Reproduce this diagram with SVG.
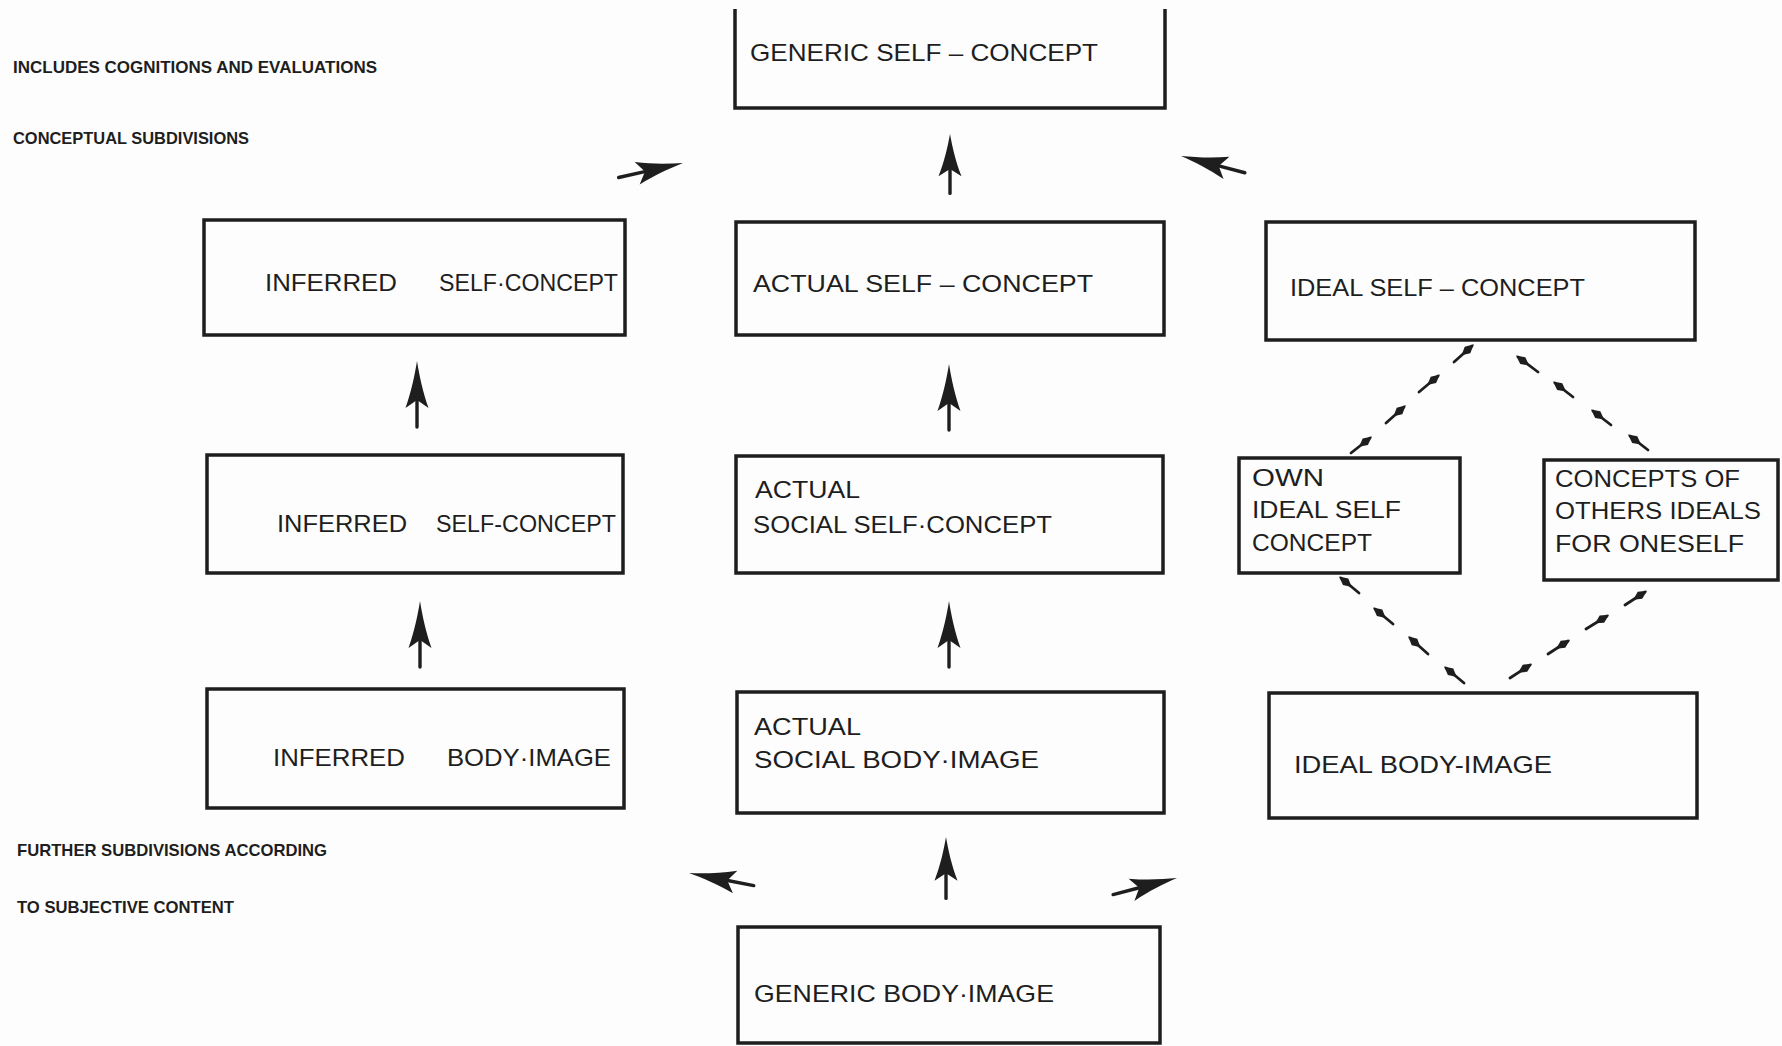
<svg xmlns="http://www.w3.org/2000/svg" xmlns:xlink="http://www.w3.org/1999/xlink" width="1782" height="1046" viewBox="0 0 1782 1046">
<style>
.box{fill:none;stroke:#1e1e1e;stroke-width:3.5;stroke-linejoin:miter}
.t{font-family:"Liberation Sans",Arial,sans-serif;font-size:24px;fill:#1e1e1e}
.s{font-family:"Liberation Sans",Arial,sans-serif;font-size:17px;font-weight:bold;fill:#1e1e1e}
.dash{stroke:#1e1e1e;stroke-width:2.8;stroke-linecap:round;marker-end:url(#sm)}
</style>
<defs>
<g id="arr">
<path d="M0,0 C2.5,15 5.5,30 11.5,47 L0,39 L-11.5,47 C-5.5,30 -2.5,15 0,0 Z" fill="#1e1e1e"/>
<line x1="0" y1="38" x2="0" y2="66" stroke="#1e1e1e" stroke-width="3.4" stroke-linecap="round"/>
</g>
<marker id="sm" markerUnits="userSpaceOnUse" markerWidth="22" markerHeight="14" viewBox="-18 -7 22 14" refX="0" refY="0" orient="auto">
<path d="M2.5,0 L-6,-4.2 L-14,0 L-6,4.2 Z" fill="#1e1e1e"/>
</marker>
</defs>
<rect width="1782" height="1046" fill="#fdfdfd"/>

<g id="notes">
<text class="s" x="13" y="73" textLength="364" lengthAdjust="spacingAndGlyphs">INCLUDES COGNITIONS AND EVALUATIONS</text>
<text class="s" x="13" y="144" textLength="236" lengthAdjust="spacingAndGlyphs">CONCEPTUAL SUBDIVISIONS</text>
<text class="s" x="17" y="856" textLength="310" lengthAdjust="spacingAndGlyphs">FURTHER SUBDIVISIONS ACCORDING</text>
<text class="s" x="17" y="913" textLength="217" lengthAdjust="spacingAndGlyphs">TO SUBJECTIVE CONTENT</text>
</g>

<g id="generic-self-concept">
<path class="box" d="M735,9 V108 H1165 V9"/>
<text class="t" x="750" y="61" textLength="348" lengthAdjust="spacingAndGlyphs">GENERIC SELF – CONCEPT</text>
</g>

<g id="inferred-self-concept-1">
<rect class="box" x="204" y="220" width="421" height="115"/>
<text class="t" x="265" y="291" textLength="132" lengthAdjust="spacingAndGlyphs">INFERRED</text>
<text class="t" x="439" y="291" textLength="179" lengthAdjust="spacingAndGlyphs">SELF·CONCEPT</text>
</g>

<g id="actual-self-concept">
<rect class="box" x="736" y="222" width="428" height="113"/>
<text class="t" x="753" y="292" textLength="340" lengthAdjust="spacingAndGlyphs">ACTUAL  SELF – CONCEPT</text>
</g>

<g id="ideal-self-concept">
<rect class="box" x="1266" y="222" width="429" height="118"/>
<text class="t" x="1290" y="296" textLength="295" lengthAdjust="spacingAndGlyphs">IDEAL SELF – CONCEPT</text>
</g>

<g id="inferred-self-concept-2">
<rect class="box" x="207" y="455" width="416" height="118"/>
<text class="t" x="277" y="532" textLength="130" lengthAdjust="spacingAndGlyphs">INFERRED</text>
<text class="t" x="436" y="532" textLength="180" lengthAdjust="spacingAndGlyphs">SELF-CONCEPT</text>
</g>

<g id="actual-social-self-concept">
<rect class="box" x="736" y="456" width="427" height="117"/>
<text class="t" x="755" y="498" textLength="105" lengthAdjust="spacingAndGlyphs">ACTUAL</text>
<text class="t" x="753" y="533" textLength="299" lengthAdjust="spacingAndGlyphs">SOCIAL SELF·CONCEPT</text>
</g>

<g id="own-ideal-self-concept">
<rect class="box" x="1239" y="458" width="221" height="115"/>
<text class="t" x="1252" y="486" textLength="72" lengthAdjust="spacingAndGlyphs">OWN</text>
<text class="t" x="1252" y="518" textLength="149" lengthAdjust="spacingAndGlyphs">IDEAL  SELF</text>
<text class="t" x="1252" y="551" textLength="120" lengthAdjust="spacingAndGlyphs">CONCEPT</text>
</g>

<g id="concepts-of-others-ideals">
<rect class="box" x="1544" y="460" width="234" height="120"/>
<text class="t" x="1555" y="487" textLength="185" lengthAdjust="spacingAndGlyphs">CONCEPTS OF</text>
<text class="t" x="1555" y="519" textLength="206" lengthAdjust="spacingAndGlyphs">OTHERS IDEALS</text>
<text class="t" x="1555" y="552" textLength="189" lengthAdjust="spacingAndGlyphs">FOR ONESELF</text>
</g>

<g id="inferred-body-image">
<rect class="box" x="207" y="689" width="417" height="119"/>
<text class="t" x="273" y="766" textLength="132" lengthAdjust="spacingAndGlyphs">INFERRED</text>
<text class="t" x="447" y="766" textLength="164" lengthAdjust="spacingAndGlyphs">BODY·IMAGE</text>
</g>

<g id="actual-social-body-image">
<rect class="box" x="737" y="692" width="427" height="121"/>
<text class="t" x="754" y="735" textLength="107" lengthAdjust="spacingAndGlyphs">ACTUAL</text>
<text class="t" x="754" y="768" textLength="285" lengthAdjust="spacingAndGlyphs">SOCIAL  BODY·IMAGE</text>
</g>

<g id="ideal-body-image">
<rect class="box" x="1269" y="693" width="428" height="125"/>
<text class="t" x="1294" y="773" textLength="258" lengthAdjust="spacingAndGlyphs">IDEAL BODY-IMAGE</text>
</g>

<g id="generic-body-image">
<rect class="box" x="738" y="927" width="422" height="116"/>
<text class="t" x="754" y="1002" textLength="300" lengthAdjust="spacingAndGlyphs">GENERIC BODY·IMAGE</text>
</g>

<g id="connectors">
<use xlink:href="#arr" href="#arr" transform="translate(950,134) scale(1,0.9)"/>
<use xlink:href="#arr" href="#arr" transform="translate(417,361)"/>
<use xlink:href="#arr" href="#arr" transform="translate(420,601)"/>
<use xlink:href="#arr" href="#arr" transform="translate(949,364)"/>
<use xlink:href="#arr" href="#arr" transform="translate(949,601)"/>
<use xlink:href="#arr" href="#arr" transform="translate(946,837) scale(1,0.93)"/>
<use xlink:href="#arr" href="#arr" transform="translate(683,163) rotate(77.3)"/>
<use xlink:href="#arr" href="#arr" transform="translate(1181,156) rotate(-75.3)"/>
<use xlink:href="#arr" href="#arr" transform="translate(689,873) rotate(-79)"/>
<use xlink:href="#arr" href="#arr" transform="translate(1177,878) rotate(75.5)"/>

<line class="dash" x1="1351" y1="453" x2="1370" y2="438"/>
<line class="dash" x1="1386" y1="423" x2="1404" y2="407"/>
<line class="dash" x1="1419" y1="392" x2="1438" y2="376"/>
<line class="dash" x1="1454" y1="362" x2="1472" y2="346"/>

<line class="dash" x1="1648" y1="450" x2="1630" y2="436"/>
<line class="dash" x1="1611" y1="425" x2="1593" y2="411"/>
<line class="dash" x1="1573" y1="397" x2="1555" y2="383"/>
<line class="dash" x1="1538" y1="372" x2="1518" y2="357"/>

<line class="dash" x1="1464" y1="683" x2="1446" y2="668"/>
<line class="dash" x1="1428" y1="654" x2="1410" y2="638"/>
<line class="dash" x1="1393" y1="624" x2="1375" y2="609"/>
<line class="dash" x1="1359" y1="593" x2="1341" y2="578"/>

<line class="dash" x1="1510" y1="678" x2="1530" y2="665"/>
<line class="dash" x1="1548" y1="654" x2="1568" y2="641"/>
<line class="dash" x1="1586" y1="629" x2="1607" y2="616"/>
<line class="dash" x1="1625" y1="605" x2="1645" y2="592"/>
</g>
</svg>
